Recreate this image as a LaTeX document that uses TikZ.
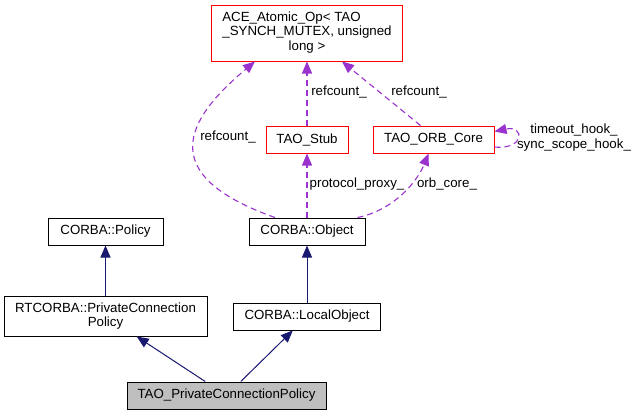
\documentclass[tikz,border=0pt]{standalone}
\usepackage{fontspec}
\setmainfont{Liberation Sans}
\usetikzlibrary{positioning,arrows.meta}
\definecolor{edgeblue}{RGB}{25,25,112}
\definecolor{edgepurple}{RGB}{154,50,205}

\begin{document}
\begin{tikzpicture}[x=1pt, y=-1pt,
  font=\fontsize{13.3}{14.5}\selectfont,
  cls/.style = {draw, line width=1pt, inner sep=2pt, minimum height=27pt, align=center},
  member/.style = {cls, draw=red},
  inherit/.style = {draw=edgeblue, line width=1pt, -{Triangle[length=12pt,width=10pt]}},
  usage/.style = {draw=edgepurple, line width=1.1pt, dash pattern=on 6pt off 4pt, -{Triangle[length=12pt,width=10pt]}},
  lbl/.style = {inner sep=1pt}]
\useasboundingbox (0,0) rectangle (636,415);
\node[member, minimum width=191pt, minimum height=56pt] (ace) at (307,33) {\begin{tabular}{@{}l@{}}ACE\_Atomic\_Op< TAO\\\_SYNCH\_MUTEX, unsigned\\\multicolumn{1}{@{}c@{}}{long >}\end{tabular}};
\node[member, minimum width=82pt] (stub) [below=64pt of ace] {TAO\_Stub};
\node[member, minimum width=121pt] (orb) [right=24pt of stub] {TAO\_ORB\_Core};
\node[cls, minimum width=116pt] (object) [below=64pt of stub] {CORBA::Object};
\node[cls, minimum width=115pt] (policy) [left=85pt of object] {CORBA::Policy};
\node[cls, minimum width=203pt, minimum height=40pt] (rtcorba) [below=50pt of policy] {RTCORBA::PrivateConnection\\Policy};
\node[cls, minimum width=147pt] (local) [below=57pt of object] {CORBA::LocalObject};
\node[cls, fill=black!25, minimum width=199pt] (tao) at (226.5,395.5) {TAO\_PrivateConnectionPolicy};

% inheritance
\draw[inherit] (rtcorba) -- (policy);
\draw[inherit] (local) -- (object);
\draw[inherit] (tao) -- (rtcorba);
\draw[inherit] (tao) -- (local);

% usage
\draw[usage] ([xshift=-32pt]object.north) .. controls (155,175) and (185,120) .. ([xshift=-52pt]ace.south);
\draw[usage] (stub) -- (ace);
\draw[usage] ([xshift=-13pt]orb.north) -- ([xshift=35pt]ace.south);
\draw[usage] (object) -- (stub);
\draw[usage] ([xshift=-8pt]object.north east) .. controls (395,210) and (418,180) .. ([xshift=-5pt]orb.south);
\draw[usage] ([yshift=-7.5pt]orb.east) .. controls (525,150) and (525,125) .. ([yshift=8pt]orb.east);

\node[lbl] (rcObj) at (228,137) {refcount\_};
\node[lbl] (rcStub) at (339,92) {refcount\_};
\node[lbl] (rcOrb) at (419,92) {refcount\_};
\node[lbl] (proxy) at (357,184) {protocol\_proxy\_};
\node[lbl] (orbcore) at (447,184) {orb\_core\_};
\node[lbl, align=center] (hooks) at (574,137.5) {timeout\_hook\_\\sync\_scope\_hook\_};
\end{tikzpicture}
\end{document}
